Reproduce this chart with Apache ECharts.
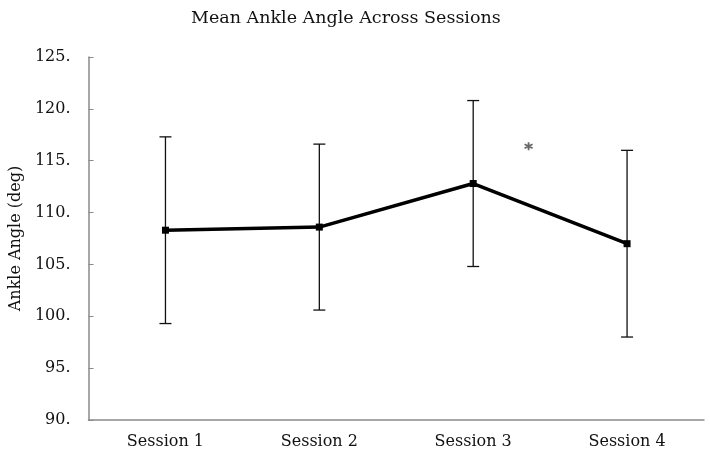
<!DOCTYPE html>
<html>
<head>
<meta charset="utf-8">
<script src="https://cdn.jsdelivr.net/npm/echarts@6/dist/echarts.min.js"></script>
<style>html,body{margin:0;padding:0;background:#fff;}#c{width:710px;height:457px;}</style>
</head>
<body>
<div id="c"></div>
<script>
var categories = ['Session 1', 'Session 2', 'Session 3', 'Session 4'];
var meanValues = [108.3, 108.6, 112.8, 107.0];
var upperValues = [117.3, 116.6, 120.8, 116.0];
var lowerValues = [99.3, 100.6, 104.8, 98.0];
var asteriskPoint = [2.36, 116.4];
var yTicks = [90, 95, 100, 105, 110, 115, 120, 125];

var font = 'DejaVu Serif';
var chart = echarts.init(document.getElementById('c'));
var errData = categories.map(function (c, i) { return [i, lowerValues[i], upperValues[i]]; });

chart.setOption({
  animation: false,
  backgroundColor: '#fff',
  title: {
    text: 'Mean Ankle Angle Across Sessions',
    left: 186, top: 4,
    textStyle: { fontFamily: font, fontSize: 17.5, fontWeight: 'normal', color: '#111' }
  },
  grid: { left: 86, right: 6, top: 57, bottom: 37 },
  xAxis: [{
    type: 'category',
    data: categories,
    boundaryGap: true,
    axisLine: { onZero: false, lineStyle: { color: '#8a8a8a', width: 1.5 } },
    axisTick: { inside: true, length: 5, lineStyle: { color: '#8a8a8a' } },
    axisLabel: { fontFamily: font, fontSize: 16, color: '#111', margin: 14 },
    splitLine: { show: false }
  }, {
    type: 'value', min: -0.5, max: 3.5, show: false, position: 'bottom'
  }],
  yAxis: {
    type: 'value',
    min: yTicks[0], max: yTicks[yTicks.length - 1], interval: 5,
    name: 'Ankle Angle (deg)',
    nameLocation: 'middle',
    nameGap: 64,
    nameTextStyle: { fontFamily: font, fontSize: 16, color: '#111' },
    axisLine: { show: true, onZero: false, lineStyle: { color: '#8a8a8a', width: 1.5 } },
    axisTick: { show: true, inside: true, length: 5, lineStyle: { color: '#8a8a8a' } },
    axisLabel: { fontFamily: font, fontSize: 16, color: '#111', margin: 18, formatter: function (v) { return v + '.'; } },
    splitLine: { show: false }
  },
  series: [{
    type: 'custom',
    xAxisIndex: 0,
    data: errData,
    z: 1,
    renderItem: function (params, api) {
      var x = api.value(0);
      var lo = api.coord([x, api.value(1)]);
      var hi = api.coord([x, api.value(2)]);
      var hw = 6;
      var st = { stroke: '#111', lineWidth: 1.3 };
      return {
        type: 'group',
        children: [
          { type: 'line', shape: { x1: lo[0], y1: lo[1], x2: hi[0], y2: hi[1] }, style: st },
          { type: 'line', shape: { x1: hi[0] - hw, y1: hi[1], x2: hi[0] + hw, y2: hi[1] }, style: st },
          { type: 'line', shape: { x1: lo[0] - hw, y1: lo[1], x2: lo[0] + hw, y2: lo[1] }, style: st }
        ]
      };
    }
  }, {
    type: 'line',
    xAxisIndex: 0,
    data: meanValues,
    z: 3,
    symbol: 'rect',
    symbolSize: 7,
    lineStyle: { color: '#000', width: 3.5 },
    itemStyle: { color: '#000' }
  }, {
    type: 'scatter',
    xAxisIndex: 1,
    data: [asteriskPoint],
    symbol: 'path://M0,-5L0,5M-4.3,-2.5L4.3,2.5M-4.3,2.5L4.3,-2.5',
    symbolSize: 8,
    itemStyle: { color: 'none', borderColor: '#444', borderWidth: 1.8 }
  }]
});
</script>
</body>
</html>
